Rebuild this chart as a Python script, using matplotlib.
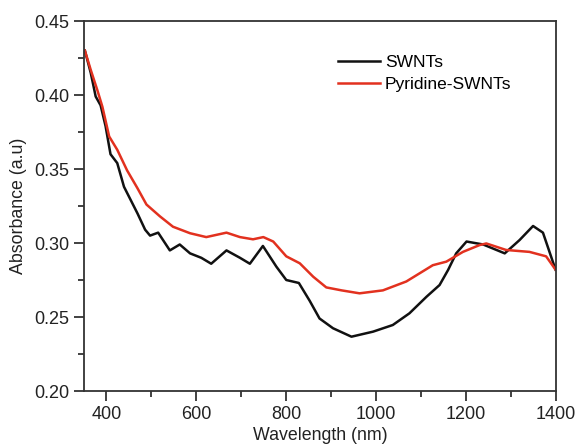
import matplotlib
matplotlib.use("Agg")
import matplotlib.pyplot as plt
from matplotlib.ticker import MultipleLocator

plt.rcParams['font.family'] = ['Liberation Sans', 'DejaVu Sans']

# SWNTs (black)
swnt_x = [352, 365, 376, 387, 398, 409, 424, 439, 454, 469, 486, 497, 515, 541, 563,
          586, 611, 633, 667, 697, 719, 748, 778, 800, 828, 852, 874, 904, 945, 993,
          1037, 1074, 1112, 1141, 1160, 1178, 1201, 1238, 1286, 1319, 1349, 1371, 1399]
swnt_y = [0.430, 0.415, 0.399, 0.393, 0.379, 0.360, 0.354, 0.338, 0.329, 0.320, 0.309,
          0.305, 0.307, 0.295, 0.299, 0.293, 0.290, 0.286, 0.295, 0.290, 0.286, 0.298,
          0.284, 0.275, 0.273, 0.261, 0.249, 0.2424, 0.2367, 0.2401, 0.2446, 0.2525,
          0.2637, 0.2716, 0.2818, 0.293, 0.301, 0.299, 0.293, 0.302, 0.3115, 0.307, 0.282]

# Pyridine-SWNTs (red)
pyr_x = [352, 365, 380, 391, 406, 424, 446, 469, 489, 519, 548, 586, 622, 667, 697,
         726, 749, 771, 800, 830, 860, 889, 923, 963, 1015, 1067, 1126, 1156, 1193,
         1230, 1245, 1289, 1341, 1378, 1399]
pyr_y = [0.430, 0.417, 0.403, 0.392, 0.372, 0.363, 0.349, 0.337, 0.326, 0.318, 0.311,
         0.3066, 0.304, 0.307, 0.304, 0.3025, 0.304, 0.301, 0.291, 0.2863, 0.2772, 0.270,
         0.268, 0.266, 0.268, 0.274, 0.285, 0.2874, 0.294, 0.2986, 0.2997, 0.2953, 0.294,
         0.291, 0.282]

fig = plt.figure(figsize=(5.8, 4.46), dpi=100)
ax = fig.add_axes([0.1448, 0.1233, 0.8138, 0.8296])

ax.plot(swnt_x, swnt_y, color='#111111', lw=1.8, label='SWNTs')
ax.plot(pyr_x, pyr_y, color='#e2311f', lw=1.8, label='Pyridine-SWNTs')

ax.set_xlim(350, 1400)
ax.set_ylim(0.20, 0.45)
ax.xaxis.set_major_locator(MultipleLocator(200))
ax.xaxis.set_minor_locator(MultipleLocator(100))
ax.yaxis.set_major_locator(MultipleLocator(0.05))
ax.yaxis.set_minor_locator(MultipleLocator(0.025))
ax.yaxis.set_major_formatter(plt.FormatStrFormatter('%.2f'))

for s in ax.spines.values():
    s.set_color('#333333')
    s.set_linewidth(1.3)
ax.tick_params(which='major', direction='out', length=7, width=1.3, color='#333333',
               labelsize=13, labelcolor='#222222', top=False, right=False)
ax.tick_params(which='minor', direction='out', length=4, width=1.3, color='#333333',
               top=False, right=False)

ax.set_xlabel('Wavelength (nm)', fontsize=12.8, color='#222222', labelpad=3)
ax.set_ylabel('Absorbance (a.u)', fontsize=12.8, color='#222222', labelpad=5)

ax.legend(loc='upper left', bbox_to_anchor=(0.538, 0.908), frameon=False, fontsize=12.5,
          handlelength=2.4, handletextpad=0.3, labelspacing=0.36, borderpad=0,
          borderaxespad=0)

fig.savefig('out.png', dpi=100)
